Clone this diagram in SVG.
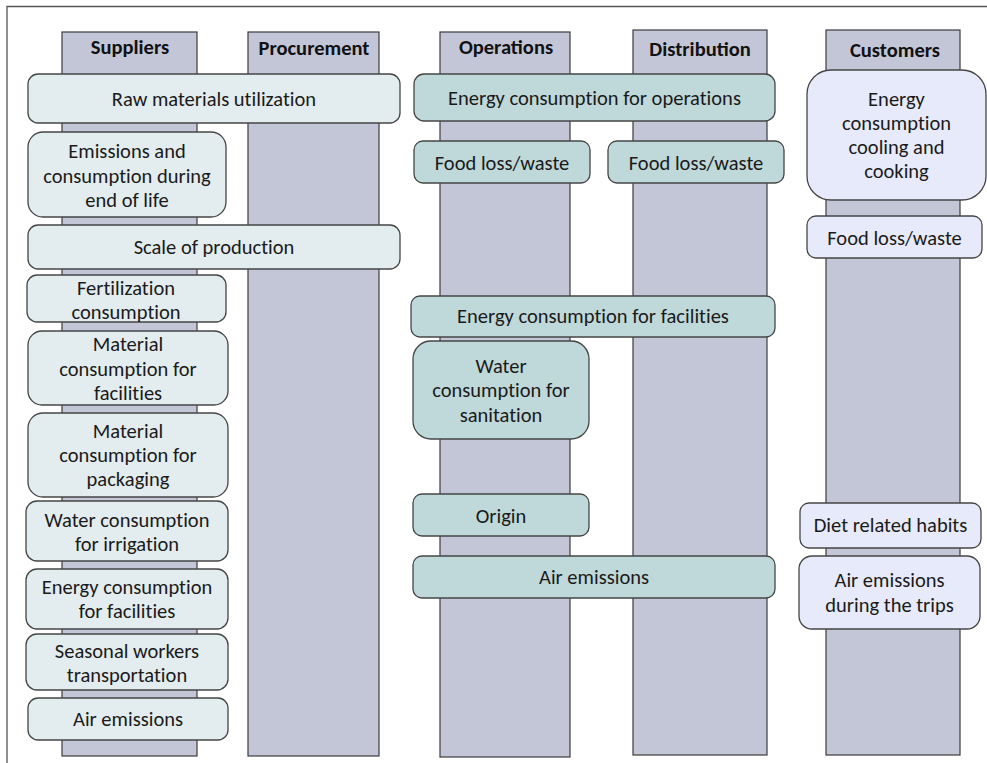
<svg xmlns="http://www.w3.org/2000/svg" width="987" height="763" viewBox="0 0 987 763">
<style>
.col{fill:#C3C6D7;stroke:#3c3c3c;stroke-width:1.2}
.sup{fill:#E3ECEE;stroke:#454545;stroke-width:1.3}
.ops{fill:#BFD8D9;stroke:#454545;stroke-width:1.3}
.cus{fill:#E6EAFA;stroke:#454545;stroke-width:1.3}
.h{font-family:Calibri,Carlito,Lato,"Liberation Sans",sans-serif;font-weight:bold;font-size:20.5px;fill:#111;text-anchor:middle}
.t{font-family:Calibri,Carlito,Lato,"Liberation Sans",sans-serif;font-size:20.5px;fill:#1a1a1a;text-anchor:middle;font-variant-ligatures:none}
</style>
<rect width="987" height="763" fill="#fff"/>
<path d="M7 763 V6.5 H987" fill="none" stroke="#555" stroke-width="1.3"/>
<g id="columns">
<g id="col-suppliers"><rect class="col" x="62" y="32" width="135" height="724"/><text class="h" x="130" y="54">Suppliers</text></g>
<g id="col-procurement"><rect class="col" x="248" y="32" width="131" height="724"/><text class="h" x="314" y="55">Procurement</text></g>
<g id="col-operations"><rect class="col" x="440" y="32" width="130" height="725"/><text class="h" x="506" y="54">Operations</text></g>
<g id="col-distribution"><rect class="col" x="633" y="30" width="134" height="725"/><text class="h" x="700" y="56">Distribution</text></g>
<g id="col-customers"><rect class="col" x="826" y="30" width="134" height="725"/><text class="h" x="895" y="57">Customers</text></g>
</g>
<g id="connectors"></g>
<g id="n-raw"><rect class="sup" x="28" y="74" width="372" height="49" rx="10"/><text class="t" x="214" y="106">Raw materials utilization</text></g>
<g id="n-eol"><rect class="sup" x="28" y="132" width="198" height="85" rx="15"/><text class="t" x="127" y="158">Emissions and</text><text class="t" x="127" y="183">consumption during</text><text class="t" x="127" y="207">end of life</text></g>
<g id="n-scale"><rect class="sup" x="28" y="225" width="372" height="44" rx="10"/><text class="t" x="214" y="254">Scale of production</text></g>
<g id="n-fert"><rect class="sup" x="27" y="275" width="199" height="47" rx="10"/><text class="t" x="126" y="295">Fertilization</text><text class="t" x="126" y="319">consumption</text></g>
<g id="n-matfac"><rect class="sup" x="28" y="331" width="200" height="74" rx="14"/><text class="t" x="128" y="351">Material</text><text class="t" x="128" y="376">consumption for</text><text class="t" x="128" y="400">facilities</text></g>
<g id="n-matpack"><rect class="sup" x="28" y="413" width="200" height="84" rx="15"/><text class="t" x="128" y="438">Material</text><text class="t" x="128" y="462">consumption for</text><text class="t" x="128" y="486">packaging</text></g>
<g id="n-water"><rect class="sup" x="26" y="501" width="202" height="60" rx="11"/><text class="t" x="127" y="527">Water consumption</text><text class="t" x="127" y="551">for irrigation</text></g>
<g id="n-energyfac"><rect class="sup" x="26" y="569" width="202" height="60" rx="11"/><text class="t" x="127" y="594">Energy consumption</text><text class="t" x="127" y="618">for facilities</text></g>
<g id="n-seasonal"><rect class="sup" x="26" y="634" width="202" height="56" rx="11"/><text class="t" x="127" y="658">Seasonal workers</text><text class="t" x="127" y="682">transportation</text></g>
<g id="n-air-sup"><rect class="sup" x="28" y="698" width="200" height="42" rx="10"/><text class="t" x="128" y="726">Air emissions</text></g>
<g id="n-energyops"><rect class="ops" x="414" y="74" width="361" height="47" rx="10"/><text class="t" x="594.5" y="105">Energy consumption for operations</text></g>
<g id="n-food-ops"><rect class="ops" x="414" y="141" width="176" height="42" rx="9"/><text class="t" x="502" y="170">Food loss/waste</text></g>
<g id="n-food-dist"><rect class="ops" x="608" y="141" width="176" height="42" rx="9"/><text class="t" x="696" y="170">Food loss/waste</text></g>
<g id="n-energyfac-ops"><rect class="ops" x="411" y="296" width="364" height="41" rx="9"/><text class="t" x="593" y="323">Energy consumption for facilities</text></g>
<g id="n-sanitation"><rect class="ops" x="413" y="341" width="176" height="98" rx="18"/><text class="t" x="501" y="373">Water</text><text class="t" x="501" y="397">consumption for</text><text class="t" x="501" y="422">sanitation</text></g>
<g id="n-origin"><rect class="ops" x="413" y="494" width="176" height="42" rx="9"/><text class="t" x="501" y="523">Origin</text></g>
<g id="n-air-ops"><rect class="ops" x="413" y="556" width="362" height="42" rx="9"/><text class="t" x="594" y="584">Air emissions</text></g>
<g id="n-cooking"><rect class="cus" x="807" y="70" width="179" height="130" rx="24"/><text class="t" x="896.5" y="106">Energy</text><text class="t" x="896.5" y="130">consumption</text><text class="t" x="896.5" y="154">cooling and</text><text class="t" x="896.5" y="178">cooking</text></g>
<g id="n-food-cus"><rect class="cus" x="807" y="216" width="175" height="42" rx="9"/><text class="t" x="894.5" y="245">Food loss/waste</text></g>
<g id="n-diet"><rect class="cus" x="800" y="503" width="181" height="45" rx="9"/><text class="t" x="890.5" y="532">Diet related habits</text></g>
<g id="n-air-cus"><rect class="cus" x="799" y="556" width="181" height="73" rx="13"/><text class="t" x="889.5" y="587">Air emissions</text><text class="t" x="889.5" y="612">during the trips</text></g>
</svg>
